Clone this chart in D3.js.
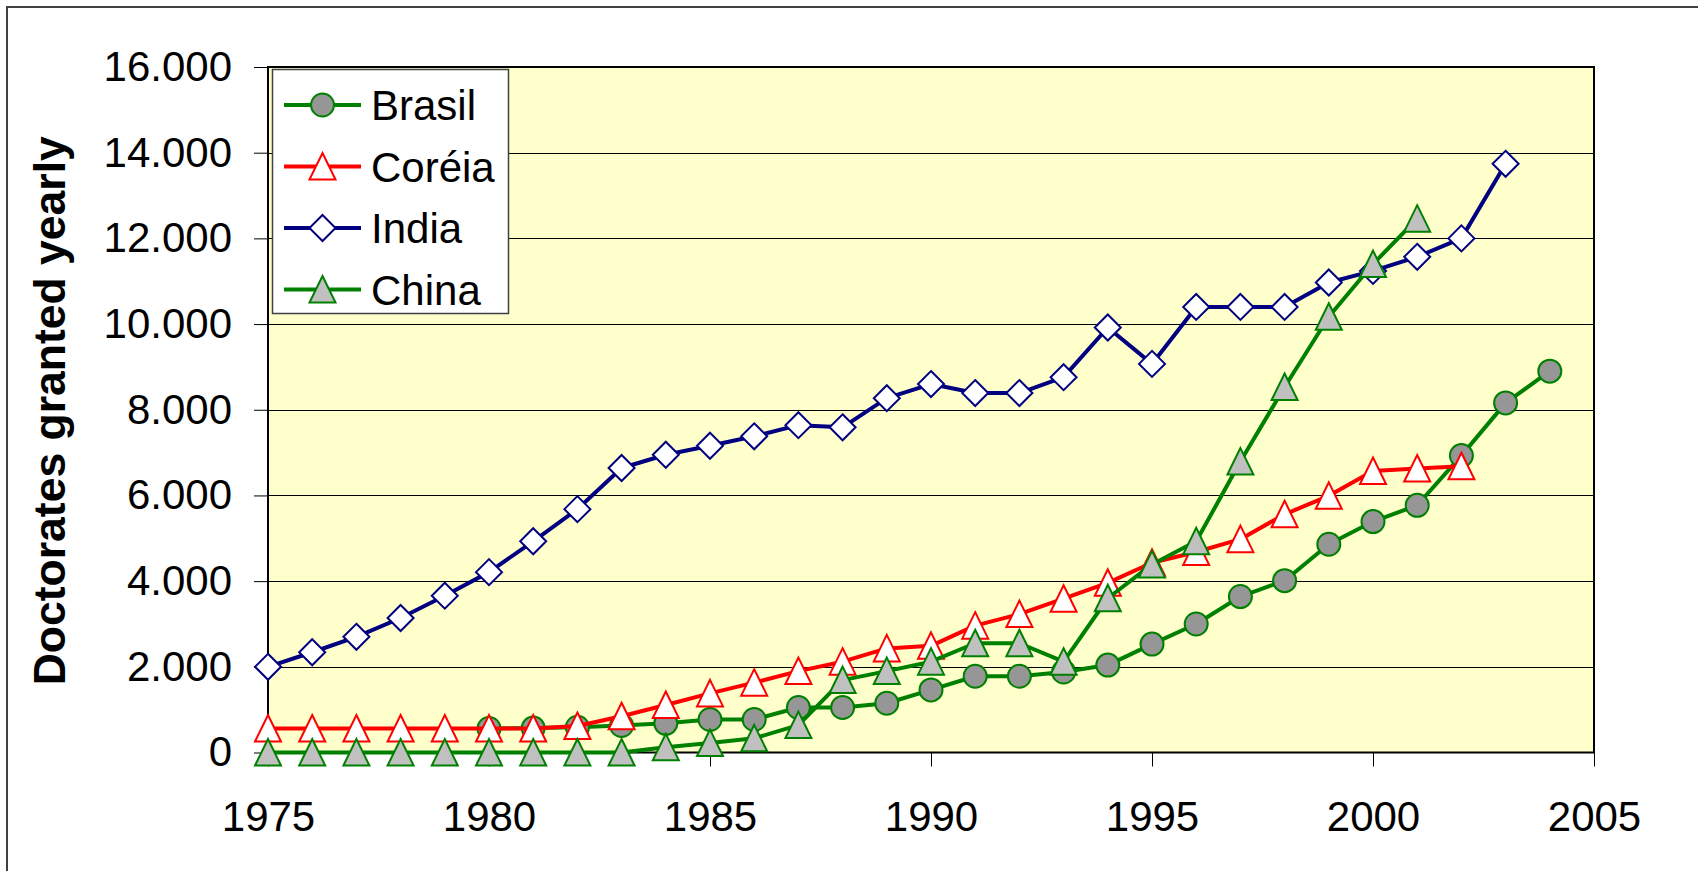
<!DOCTYPE html>
<html>
<head>
<meta charset="utf-8">
<script src="https://cdn.jsdelivr.net/npm/d3@7"></script>
<style>
  html, body { margin: 0; padding: 0; background: #fff; }
  svg { display: block; }
  text { font-family: "Liberation Sans", Arial, sans-serif; }
</style>
</head>
<body>
<svg id="chart" width="1698" height="871"></svg>
<script>
// ---------- data ----------
const years = [1975,1976,1977,1978,1979,1980,1981,1982,1983,1984,1985,1986,1987,1988,1989,
               1990,1991,1992,1993,1994,1995,1996,1997,1998,1999,2000,2001,2002,2003,2004];

const brasil = [null,null,null,null,null,560,570,590,630,680,770,770,1050,1050,1150,
                1460,1780,1780,1880,2040,2530,3000,3640,4010,4860,5390,5770,6930,8160,8900];

const coreia = [560,560,560,560,560,560,560,620,845,1110,1380,1630,1900,2120,2430,
                2490,2960,3230,3590,3960,4430,4680,4980,5560,5990,6570,6630,6680,null,null];

const india  = [2000,2340,2700,3140,3660,4210,4930,5680,6640,6950,7160,7380,7640,7590,8270,
                8600,8390,8390,8760,9920,9070,10400,10400,10400,10970,11240,11570,12000,13740,null];

const china  = [0,0,0,0,0,0,0,0,0,120,220,330,640,1690,1900,
                2120,2550,2550,2120,3600,4390,4930,6790,8530,10170,11400,12460,null,null,null];

const seriesNames = ["Brasil", "Coréia", "India", "China"];
const xTicks = [1975, 1980, 1985, 1990, 1995, 2000, 2005];
const yTicks = [0, 2000, 4000, 6000, 8000, 10000, 12000, 14000, 16000];
const yTitle = "Doctorates granted yearly";

// ---------- styles ----------
const styles = {
  "Brasil": { line: "#008000", fill: "#969696", stroke: "#008000", shape: "circle" },
  "Coréia": { line: "#FF0000", fill: "#FFFFFF", stroke: "#FF0000", shape: "triangle" },
  "India":  { line: "#000080", fill: "#FFFFFF", stroke: "#000080", shape: "diamond" },
  "China":  { line: "#008000", fill: "#C0C0C0", stroke: "#008000", shape: "triangle" }
};
const seriesValues = [brasil, coreia, india, china];

// ---------- layout ----------
const svg = d3.select("#chart");
const L = 268, R = 1594, T = 67, B = 752.5;

const x = d3.scaleLinear().domain([1975, 2005]).range([L, R]);
const y = d3.scaleLinear().domain([0, 16000]).range([B, T]);

const loc = d3.formatLocale({ decimal: ",", thousands: ".", grouping: [3], currency: ["", ""] });
const fmt = loc.format(",d");

// outer chart border (extends beyond the right and bottom edges)
svg.append("rect")
  .attr("x", 7).attr("y", 7).attr("width", 1760).attr("height", 950)
  .attr("fill", "none").attr("stroke", "#404040").attr("stroke-width", 2);

// plot background
svg.append("rect")
  .attr("x", L).attr("y", T).attr("width", R - L).attr("height", B - T)
  .attr("fill", "#FFFFCC");

// gridlines
svg.append("g").selectAll("line")
  .data(yTicks.filter(d => d > 0 && d < 16000))
  .join("line")
  .attr("x1", L).attr("x2", R)
  .attr("y1", d => Math.round(y(d)) + 0.5).attr("y2", d => Math.round(y(d)) + 0.5)
  .attr("stroke", "#000").attr("stroke-width", 1);

// y axis
const yAxis = svg.append("g")
  .attr("transform", `translate(${L},0)`)
  .call(d3.axisLeft(y).tickValues(yTicks).tickFormat(fmt).tickSize(14).tickPadding(22));
yAxis.select(".domain").remove();
yAxis.selectAll(".tick line").attr("stroke", "#000").attr("stroke-width", 1);
yAxis.selectAll(".tick text")
  .attr("font-size", 42).attr("fill", "#000")
  .attr("font-family", "'Liberation Sans', Arial, sans-serif");

// x axis
const xAxis = svg.append("g")
  .attr("transform", `translate(0,${B})`)
  .call(d3.axisBottom(x).tickValues(xTicks).tickFormat(d3.format("d")).tickSize(14).tickPadding(35));
xAxis.select(".domain").remove();
xAxis.selectAll(".tick line").attr("stroke", "#000").attr("stroke-width", 1);
xAxis.selectAll(".tick text")
  .attr("font-size", 42).attr("fill", "#000")
  .attr("font-family", "'Liberation Sans', Arial, sans-serif");

// plot frame
svg.append("rect")
  .attr("x", L).attr("y", T).attr("width", R - L).attr("height", B - T)
  .attr("fill", "none").attr("stroke", "#000").attr("stroke-width", 2);

// y title
svg.append("text")
  .attr("transform", `translate(65,${(T + B) / 2 + 1}) rotate(-90)`)
  .attr("text-anchor", "middle")
  .attr("font-size", 44.5).attr("font-weight", "bold").attr("fill", "#000")
  .text(yTitle);

// marker shapes
function markerPath(shape) {
  if (shape === "triangle") return "M0,-13.5L13,13L-13,13Z";
  if (shape === "diamond") return "M0,-13L13,0L0,13L-13,0Z";
  return null;
}
function drawMarker(g, shape, st, cx, cy) {
  if (shape === "circle") {
    g.append("circle").attr("cx", cx).attr("cy", cy).attr("r", 11.5)
      .attr("fill", st.fill).attr("stroke", st.stroke).attr("stroke-width", 2);
  } else {
    g.append("path").attr("d", markerPath(shape))
      .attr("transform", `translate(${cx},${cy})`)
      .attr("fill", st.fill).attr("stroke", st.stroke).attr("stroke-width", 2)
      .attr("stroke-linejoin", "miter");
  }
}

// series
const line = d3.line()
  .defined(d => d.v !== null)
  .x(d => x(d.year)).y(d => y(d.v));

seriesNames.forEach((name, i) => {
  const st = styles[name];
  const pts = years.map((yr, j) => ({ year: yr, v: seriesValues[i][j] }));
  const g = svg.append("g");
  g.append("path").datum(pts)
    .attr("d", line)
    .attr("fill", "none").attr("stroke", st.line).attr("stroke-width", 4)
    .attr("stroke-linejoin", "round");
  pts.filter(d => d.v !== null).forEach(d => drawMarker(g, st.shape, st, x(d.year), y(d.v)));
});

// legend
const lg = svg.append("g");
lg.append("rect")
  .attr("x", 272.5).attr("y", 69.5).attr("width", 236).attr("height", 244)
  .attr("fill", "#fff").attr("stroke", "#404040").attr("stroke-width", 1.5);
seriesNames.forEach((name, i) => {
  const st = styles[name];
  const cy = 105 + i * 61.5;
  lg.append("line").attr("x1", 284).attr("x2", 361).attr("y1", cy).attr("y2", cy)
    .attr("stroke", st.line).attr("stroke-width", 4);
  drawMarker(lg, st.shape, st, 322.5, cy);
  lg.append("text").attr("x", 371).attr("y", cy).attr("dy", "0.36em")
    .attr("font-size", 42).attr("fill", "#000").text(name);
});
</script>
</body>
</html>
